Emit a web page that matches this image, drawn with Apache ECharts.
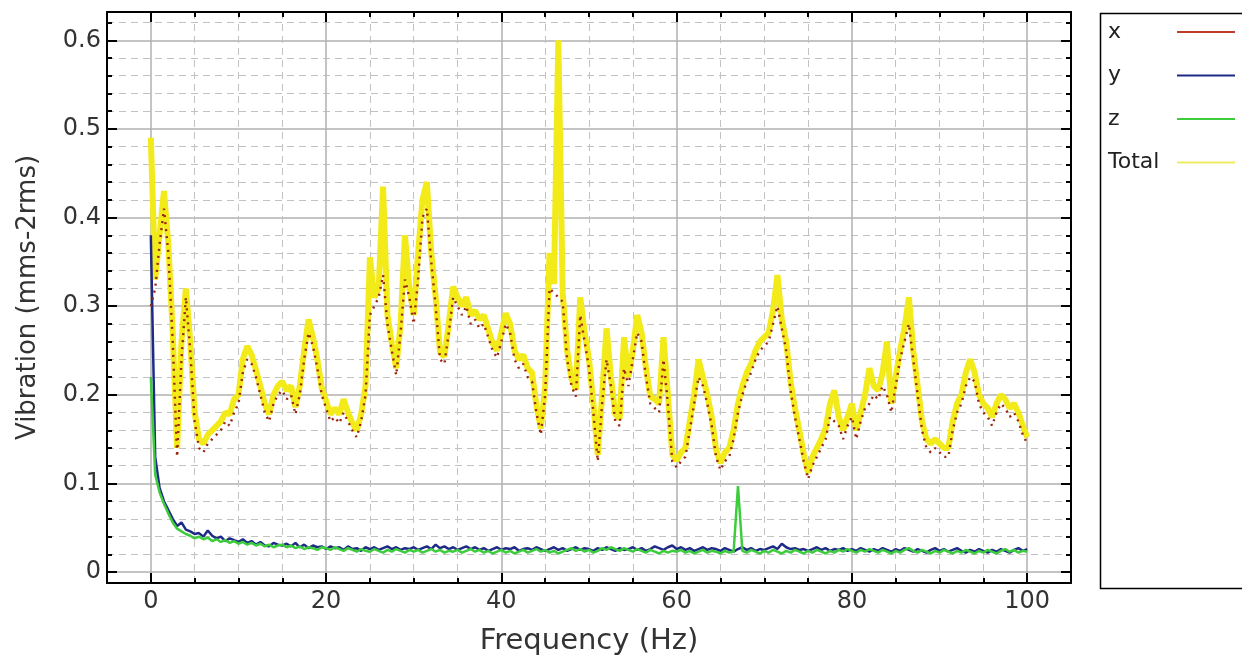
<!DOCTYPE html>
<html>
<head>
<meta charset="utf-8">
<script src="https://cdn.jsdelivr.net/npm/echarts@6/dist/echarts.min.js"></script>
<style>html,body{margin:0;padding:0;background:#fff;}#chart{width:1242px;height:661px;}</style>
</head>
<body>
<div id="chart"></div>
<script>
// ---- data (spectrum sampled every 0.5 Hz, 0 .. 100 Hz) ----
const freqStep = 0.5;
const seriesNames = ['x', 'y', 'z', 'Total'];
const xVals = [
0.30,0.32,0.37,0.41,0.36,0.26,0.13,0.24,0.31,0.25,
0.17,0.14,0.135,0.145,0.15,0.155,0.16,0.17,0.165,0.18,
0.19,0.225,0.24,0.235,0.22,0.2,0.18,0.17,0.19,0.2,
0.205,0.195,0.2,0.178,0.2,0.24,0.27,0.255,0.23,0.2,
0.185,0.17,0.175,0.168,0.18,0.17,0.16,0.152,0.17,0.2,
0.29,0.3,0.31,0.335,0.28,0.25,0.222,0.27,0.33,0.31,
0.28,0.33,0.40,0.41,0.35,0.30,0.24,0.235,0.27,0.31,
0.3,0.29,0.3,0.28,0.285,0.275,0.28,0.265,0.25,0.242,
0.26,0.28,0.27,0.24,0.23,0.235,0.22,0.215,0.18,0.155,
0.2,0.32,0.315,0.31,0.305,0.24,0.21,0.198,0.29,0.26,
0.23,0.18,0.125,0.19,0.24,0.21,0.17,0.165,0.23,0.21,
0.24,0.27,0.26,0.22,0.19,0.185,0.18,0.24,0.19,0.125,
0.118,0.125,0.13,0.16,0.19,0.22,0.21,0.19,0.165,0.13,
0.115,0.125,0.13,0.15,0.18,0.2,0.215,0.225,0.24,0.25,
0.255,0.26,0.28,0.3,0.275,0.25,0.205,0.175,0.15,0.125,
0.105,0.12,0.13,0.14,0.15,0.175,0.17,0.165,0.15,0.165,
0.175,0.15,0.17,0.185,0.19,0.2,0.195,0.21,0.2,0.18,
0.21,0.24,0.26,0.28,0.24,0.2,0.16,0.14,0.135,0.14,
0.135,0.13,0.13,0.16,0.18,0.19,0.21,0.22,0.215,0.19,
0.18,0.175,0.165,0.18,0.19,0.185,0.175,0.18,0.17,0.155,
0.145];
const yVals = [
0.38,0.13,0.095,0.08,0.07,0.06,0.052,0.056,0.048,0.046,
0.043,0.044,0.04,0.047,0.041,0.038,0.04,0.035,0.038,0.036,
0.034,0.037,0.033,0.035,0.031,0.034,0.03,0.029,0.033,0.031,
0.03,0.032,0.029,0.033,0.028,0.031,0.027,0.03,0.028,0.029,
0.026,0.029,0.027,0.028,0.025,0.029,0.026,0.027,0.024,0.028,
0.026,0.028,0.025,0.027,0.029,0.026,0.028,0.025,0.027,0.026,
0.028,0.025,0.027,0.029,0.026,0.031,0.027,0.029,0.026,0.028,
0.025,0.027,0.029,0.026,0.028,0.025,0.027,0.024,0.026,0.028,
0.025,0.027,0.026,0.028,0.024,0.026,0.027,0.025,0.028,0.026,
0.024,0.026,0.028,0.025,0.027,0.024,0.026,0.028,0.025,0.027,
0.026,0.024,0.027,0.025,0.028,0.026,0.024,0.027,0.025,0.026,
0.028,0.025,0.027,0.024,0.026,0.029,0.027,0.025,0.028,0.03,
0.026,0.028,0.025,0.027,0.024,0.026,0.028,0.025,0.027,0.026,
0.024,0.027,0.025,0.023,0.026,0.028,0.025,0.027,0.024,0.026,
0.025,0.027,0.029,0.026,0.032,0.028,0.026,0.027,0.025,0.026,
0.024,0.026,0.028,0.025,0.027,0.024,0.026,0.025,0.027,0.024,
0.026,0.024,0.027,0.025,0.023,0.026,0.024,0.027,0.025,0.023,
0.026,0.024,0.027,0.025,0.023,0.026,0.024,0.022,0.025,0.027,
0.024,0.026,0.023,0.025,0.027,0.024,0.022,0.025,0.023,0.026,
0.024,0.022,0.025,0.023,0.026,0.024,0.022,0.025,0.027,0.024,
0.026];
const zVals = [
0.22,0.11,0.09,0.077,0.066,0.056,0.049,0.046,0.043,0.041,
0.038,0.04,0.037,0.039,0.035,0.037,0.034,0.036,0.033,0.035,
0.032,0.034,0.031,0.033,0.03,0.032,0.029,0.031,0.028,0.03,
0.031,0.028,0.03,0.027,0.029,0.026,0.028,0.027,0.025,0.028,
0.027,0.025,0.028,0.026,0.024,0.027,0.025,0.023,0.026,0.024,
0.023,0.026,0.024,0.022,0.025,0.023,0.026,0.024,0.022,0.025,
0.023,0.025,0.022,0.024,0.026,0.023,0.025,0.022,0.024,0.023,
0.025,0.022,0.024,0.026,0.023,0.025,0.022,0.024,0.021,0.023,
0.025,0.022,0.024,0.021,0.023,0.025,0.022,0.024,0.026,0.023,
0.025,0.022,0.024,0.021,0.023,0.025,0.027,0.024,0.026,0.023,
0.025,0.022,0.024,0.027,0.025,0.028,0.026,0.024,0.027,0.025,
0.023,0.026,0.024,0.022,0.025,0.023,0.021,0.024,0.022,0.024,
0.023,0.025,0.022,0.024,0.021,0.023,0.025,0.022,0.024,0.023,
0.021,0.024,0.022,0.023,0.097,0.024,0.022,0.025,0.023,0.021,
0.024,0.022,0.025,0.023,0.021,0.024,0.022,0.025,0.023,0.021,
0.024,0.022,0.025,0.023,0.021,0.024,0.022,0.025,0.023,0.026,
0.024,0.022,0.025,0.023,0.026,0.024,0.022,0.025,0.023,0.021,
0.024,0.022,0.025,0.027,0.024,0.022,0.025,0.023,0.021,0.024,
0.022,0.025,0.023,0.021,0.024,0.022,0.025,0.023,0.021,0.024,
0.022,0.025,0.023,0.021,0.024,0.026,0.023,0.025,0.022,0.024,
0.023];
const totalVals = [
0.49,0.33,0.38,0.43,0.37,0.27,0.14,0.26,0.32,0.26,
0.18,0.15,0.145,0.155,0.16,0.165,0.17,0.18,0.178,0.195,
0.2,0.24,0.255,0.245,0.228,0.21,0.19,0.178,0.2,0.21,
0.215,0.205,0.21,0.186,0.21,0.25,0.285,0.265,0.24,0.208,
0.193,0.178,0.185,0.178,0.195,0.18,0.168,0.16,0.178,0.21,
0.355,0.31,0.32,0.435,0.29,0.258,0.23,0.28,0.38,0.32,
0.29,0.36,0.42,0.44,0.36,0.31,0.248,0.243,0.28,0.322,
0.31,0.3,0.31,0.29,0.295,0.285,0.29,0.274,0.258,0.25,
0.27,0.292,0.28,0.25,0.24,0.245,0.23,0.225,0.188,0.162,
0.21,0.36,0.325,0.6,0.315,0.25,0.218,0.206,0.31,0.27,
0.24,0.19,0.132,0.2,0.275,0.22,0.178,0.173,0.265,0.22,
0.25,0.29,0.27,0.23,0.198,0.195,0.19,0.265,0.2,0.133,
0.126,0.135,0.14,0.17,0.2,0.24,0.22,0.2,0.175,0.138,
0.123,0.135,0.14,0.16,0.19,0.21,0.225,0.235,0.25,0.26,
0.265,0.27,0.295,0.335,0.285,0.26,0.215,0.185,0.16,0.133,
0.112,0.13,0.14,0.15,0.162,0.19,0.205,0.175,0.16,0.175,
0.19,0.16,0.18,0.2,0.23,0.21,0.205,0.225,0.26,0.19,
0.22,0.25,0.275,0.31,0.25,0.21,0.17,0.15,0.145,0.15,
0.145,0.14,0.14,0.17,0.19,0.2,0.225,0.24,0.225,0.2,
0.19,0.185,0.175,0.19,0.2,0.195,0.185,0.19,0.18,0.165,
0.152];
const xMajorTicks = [0, 20, 40, 60, 80, 100];
const xMinorTicks = [5, 10, 15, 25, 30, 35, 45, 50, 55, 65, 70, 75, 85, 90, 95];
const yMajorTicks = [0, 0.1, 0.2, 0.3, 0.4, 0.5, 0.6];
const yMinorTicks = [0.02, 0.04, 0.06, 0.08, 0.12, 0.14, 0.16, 0.18, 0.22, 0.24, 0.26, 0.28,
  0.32, 0.34, 0.36, 0.38, 0.42, 0.44, 0.46, 0.48, 0.52, 0.54, 0.56, 0.58, 0.62];
const xLabel = 'Frequency (Hz)';
const yLabel = 'Vibration (mms-2rms)';

// ---- chart ----
const FONT = 'DejaVu Sans';
const toPairs = vals => vals.map((v, i) => [i * freqStep, v]);
const X_MIN = -5, X_MAX = 105, Y_MIN = -0.0123, Y_MAX = 0.6319;
const majorGrid = { show: true, lineStyle: { color: '#b0b0b0', width: 1.5, type: 'solid' } };
const minorGrid = { show: true, lineStyle: { color: '#c2c2c2', width: 1, type: [7, 5] } };
const blackLine = { show: true, onZero: false, lineStyle: { color: '#000', width: 2 } };
const noLine = { show: false, onZero: false };

function xAx(pos, ticks, major, withLabels) {
  return {
    type: 'value', gridIndex: 0, position: pos, min: X_MIN, max: X_MAX,
    axisLine: major ? blackLine : noLine,
    axisTick: { show: true, inside: true, length: major ? 10 : 5, customValues: ticks, lineStyle: { color: '#000', width: 2 } },
    axisLabel: withLabels ? { show: true, customValues: ticks, margin: 7, fontSize: 24, color: '#333', fontFamily: FONT } : { show: false },
    splitLine: pos === 'bottom' ? (major ? majorGrid : minorGrid) : { show: false },
    name: withLabels ? xLabel : '', nameLocation: 'middle', nameGap: 44,
    nameTextStyle: { fontSize: 29, color: '#333', fontFamily: FONT }
  };
}
function yAx(pos, ticks, major, withLabels) {
  return {
    type: 'value', gridIndex: 0, position: pos, min: Y_MIN, max: Y_MAX,
    axisLine: major ? blackLine : noLine,
    axisTick: { show: true, inside: true, length: major ? 10 : 5, customValues: ticks, lineStyle: { color: '#000', width: 2 } },
    axisLabel: withLabels ? { show: true, customValues: ticks, margin: 6, fontSize: 24, color: '#333', fontFamily: FONT } : { show: false },
    splitLine: pos === 'left' ? (major ? majorGrid : minorGrid) : { show: false },
    name: withLabels ? yLabel : '', nameLocation: 'middle', nameGap: 66,
    nameTextStyle: { fontSize: 26, color: '#333', fontFamily: FONT }
  };
}

const chart = echarts.init(document.getElementById('chart'), null, { renderer: 'canvas' });
chart.setOption({
  animation: false,
  backgroundColor: '#fff',
  grid: { left: 107, top: 12, width: 964, height: 574, containLabel: false },
  xAxis: [
    xAx('bottom', xMajorTicks, true, true),
    xAx('bottom', xMinorTicks, false, false),
    xAx('top', xMajorTicks, true, false),
    xAx('top', xMinorTicks, false, false)
  ],
  yAxis: [
    yAx('left', yMajorTicks, true, true),
    yAx('left', yMinorTicks, false, false),
    yAx('right', yMajorTicks, true, false),
    yAx('right', yMinorTicks, false, false)
  ],
  graphic: [{
    type: 'rect', left: 1098, top: 11, z: 0,
    shape: { x: 0, y: 0, width: 170, height: 575 },
    style: { fill: 'none', stroke: '#000', lineWidth: 1.5 }
  }],
  legend: {
    orient: 'vertical', left: 1103, top: 16, align: 'right',
    itemWidth: 58, itemHeight: 2, itemGap: 21.5,
    icon: 'rect',
    data: [
      { name: seriesNames[0], itemStyle: { color: '#c0392b' } },
      { name: seriesNames[1], itemStyle: { color: '#1f2a86' } },
      { name: seriesNames[2], itemStyle: { color: '#3ccc3c' } },
      { name: seriesNames[3], itemStyle: { color: '#f0ec60' } }
    ],
    formatter: name => '{n|' + name + '}',
    textStyle: { rich: { n: { width: 64, align: 'left', fontSize: 22, lineHeight: 24, color: '#222', fontFamily: FONT } } },
    selectedMode: false
  },
  series: [
    { name: seriesNames[0], type: 'line', xAxisIndex: 0, yAxisIndex: 0, z: 4, symbol: 'none',
      data: toPairs(xVals), color: '#b02810',
      lineStyle: { color: '#9a2410', width: 2.4, type: [2, 5] } },
    { name: seriesNames[1], type: 'line', xAxisIndex: 0, yAxisIndex: 0, z: 3, symbol: 'none',
      data: toPairs(yVals), color: '#1f2a86',
      lineStyle: { color: '#1f2a86', width: 2.5 } },
    { name: seriesNames[2], type: 'line', xAxisIndex: 0, yAxisIndex: 0, z: 3, symbol: 'none',
      data: toPairs(zVals), color: '#3ccc3c',
      lineStyle: { color: '#3ccc3c', width: 2.5 } },
    { name: seriesNames[3], type: 'line', xAxisIndex: 0, yAxisIndex: 0, z: 2, symbol: 'none',
      data: toPairs(totalVals), color: '#f0ec50',
      lineStyle: { color: '#f3ea1a', width: 6 } }
  ]
});
</script>
</body>
</html>
